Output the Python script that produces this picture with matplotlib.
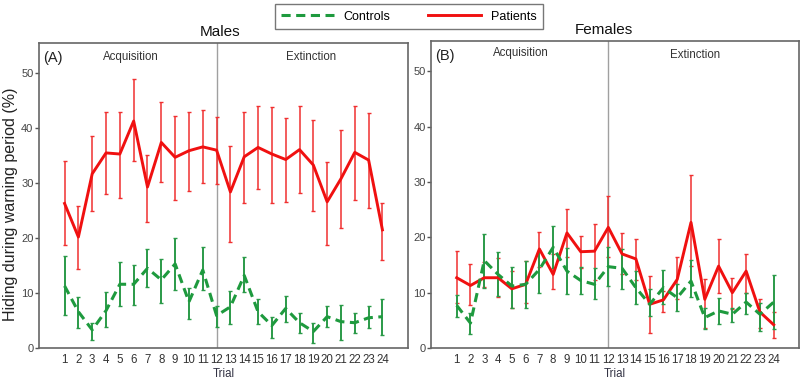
import matplotlib
matplotlib.use("Agg")
import matplotlib.pyplot as plt
import numpy as np
from matplotlib.lines import Line2D

plt.rcParams['font.family'] = ['Liberation Sans', 'DejaVu Sans']

trials = list(range(1, 25))

# Males
male_pat = [26.3, 20.2, 31.7, 35.5, 35.3, 41.3, 29.3, 37.4, 34.7, 35.9, 36.6, 36.0,
            28.4, 34.8, 36.5, 35.3, 34.3, 36.1, 33.3, 26.6, 30.8, 35.6, 34.2, 21.5]
male_pat_hi = [34.1, 25.8, 38.5, 43.0, 43.0, 49.0, 35.2, 44.8, 42.2, 43.0, 43.3, 42.1,
               36.7, 43.0, 44.0, 43.8, 41.8, 44.0, 41.4, 33.8, 39.7, 44.1, 42.7, 26.4]
male_pat_lo = [18.7, 14.4, 25.0, 28.0, 27.3, 34.0, 23.0, 30.2, 27.0, 28.6, 30.0, 29.8,
               19.2, 26.3, 29.0, 26.3, 26.5, 28.2, 25.0, 18.8, 21.8, 27.0, 25.5, 16.0]

male_con = [11.3, 6.6, 3.3, 6.8, 11.6, 11.6, 14.5, 12.4, 15.3, 8.4, 14.2, 5.9,
            7.5, 13.2, 6.6, 4.1, 7.2, 4.6, 3.0, 5.7, 4.8, 4.6, 5.5, 5.7]
male_con_hi = [16.7, 9.2, 4.6, 10.2, 15.7, 15.1, 18.0, 16.2, 20.1, 11.0, 18.4, 7.6,
               10.4, 16.6, 9.0, 5.7, 9.5, 6.4, 4.6, 7.6, 7.8, 6.4, 7.6, 9.0]
male_con_lo = [6.0, 3.6, 1.5, 3.8, 7.6, 7.8, 11.1, 8.2, 10.5, 5.2, 10.5, 3.8,
               4.4, 10.2, 4.4, 1.9, 4.8, 2.7, 0.9, 3.9, 1.5, 2.7, 3.6, 2.4]

# Females
fem_pat = [12.7, 11.3, 12.7, 12.7, 10.7, 11.5, 17.9, 13.3, 20.8, 17.4, 17.5, 21.8,
           17.0, 16.1, 7.9, 8.7, 12.4, 22.7, 8.8, 14.8, 10.0, 13.9, 6.5, 4.2]
fem_pat_hi = [17.6, 15.2, 15.6, 16.2, 13.9, 15.8, 21.0, 17.0, 25.2, 20.2, 22.5, 27.4,
              20.8, 19.7, 13.0, 10.3, 16.4, 31.3, 12.5, 19.7, 12.7, 17.0, 8.9, 6.5]
fem_pat_lo = [8.1, 7.8, 11.1, 9.3, 7.3, 8.1, 14.7, 10.6, 16.5, 14.4, 12.3, 16.5,
              13.3, 12.3, 2.7, 6.5, 8.8, 14.8, 3.6, 10.0, 7.1, 10.0, 3.6, 1.8]

fem_con = [7.7, 4.5, 15.8, 13.3, 11.2, 11.5, 14.2, 18.2, 13.9, 12.2, 11.5, 14.7,
           14.4, 10.9, 7.9, 10.9, 9.1, 12.1, 5.5, 6.7, 6.1, 8.3, 6.1, 8.3]
fem_con_hi = [9.5, 6.4, 20.6, 17.3, 14.7, 15.8, 17.6, 22.1, 18.0, 14.7, 14.5, 18.2,
              17.9, 13.9, 10.6, 14.1, 11.5, 15.9, 7.3, 9.1, 7.3, 9.9, 8.1, 13.2]
fem_con_lo = [5.6, 2.6, 10.9, 9.4, 7.3, 7.3, 10.0, 14.4, 9.7, 9.7, 8.8, 11.2,
              10.6, 7.9, 5.8, 7.9, 6.7, 9.3, 3.5, 4.4, 4.7, 6.2, 3.0, 3.5]

RED = '#f01010'
RED_E = '#f03030'
GREEN = '#1e9a3e'
GREEN_E = '#2a9a48'
DASH = (0, (3.0, 1.8))

fig = plt.figure(figsize=(8, 3.81), dpi=100)
axA = fig.add_axes([0.04875, 0.0866, 0.46125, 0.8005])
axB = fig.add_axes([0.539, 0.0866, 0.46, 0.806])


def panel(ax, con, con_lo, con_hi, pat, pat_lo, pat_hi, letter, title, tx_acq, tx_ext, ty_acq, ty_ext, title_x):
    x = np.array(trials)
    con = np.array(con); pat = np.array(pat)
    ax.errorbar(x, pat, yerr=[pat - np.array(pat_lo), np.array(pat_hi) - pat], fmt='none',
                ecolor=RED_E, elinewidth=1.1, capsize=1.3, capthick=1.0, zorder=2)
    ax.errorbar(x, con, yerr=[con - np.array(con_lo), np.array(con_hi) - con], fmt='none',
                ecolor=GREEN_E, elinewidth=1.4, capsize=1.3, capthick=1.0, zorder=2)
    ax.plot(x, pat, color=RED, lw=2.1, zorder=3)
    ax.plot(x, con, color=GREEN, lw=2.2, ls=DASH, zorder=3)
    ax.axvline(12, color='#a0a0a0', lw=1.0, zorder=1)
    ax.set_xlim(-0.85, 25.85)
    ax.set_ylim(0, 55.5)
    ax.set_xticks(trials)
    ax.set_xticklabels([str(t) for t in trials], fontsize=8.3, color='#333333')
    ax.set_yticks([0, 10, 20, 30, 40, 50])
    ax.set_yticklabels(['0', '10', '20', '30', '40', '50'], fontsize=8, color='#444444')
    ax.tick_params(axis='x', length=0, pad=4)
    ax.tick_params(axis='y', length=3, width=1, color='#555555', pad=1)
    for s in ax.spines.values():
        s.set_color('#666666')
        s.set_linewidth(1.2)
    ax.set_xlabel('Trial', fontsize=8.3, color='#333344', labelpad=2)
    ax.text(0.012, 0.95, letter, transform=ax.transAxes, fontsize=10.5, color='#222222', va='center', ha='left')
    ax.text(tx_acq, ty_acq, 'Acquisition', fontsize=8.3, color='#333333', ha='center', va='center')
    ax.text(tx_ext, ty_ext, 'Extinction', fontsize=8.3, color='#333333', ha='center', va='center')
    ax.text(title_x, 1.035, title, transform=ax.transAxes, fontsize=11, color='#111111', ha='center', va='center')


panel(axA, male_con, male_con_lo, male_con_hi, male_pat, male_pat_lo, male_pat_hi,
      '(A)', 'Males', 5.8, 18.8, 53.0, 53.0, 0.49)
panel(axB, fem_con, fem_con_lo, fem_con_hi, fem_pat, fem_pat_lo, fem_pat_hi,
      '(B)', 'Females', 5.65, 18.3, 53.4, 53.0, 0.47)
axA.set_ylabel('Hiding during warning period (%)', fontsize=11.5, color='#222222')
axA.yaxis.set_label_coords(-0.057, 0.47)

handles = [Line2D([], [], color=GREEN, lw=2.2, ls=DASH),
           Line2D([], [], color=RED, lw=2.1)]
leg = fig.legend(handles, ['Controls', 'Patients'], loc='upper center', bbox_to_anchor=(0.511, 1.005),
                 ncol=2, fontsize=9, frameon=True, fancybox=False, handlelength=4.2,
                 columnspacing=3.0, borderpad=0.5, handletextpad=0.8)
leg.get_frame().set_edgecolor('#555555')
leg.get_frame().set_linewidth(1.0)

fig.savefig('out.png', dpi=100)
